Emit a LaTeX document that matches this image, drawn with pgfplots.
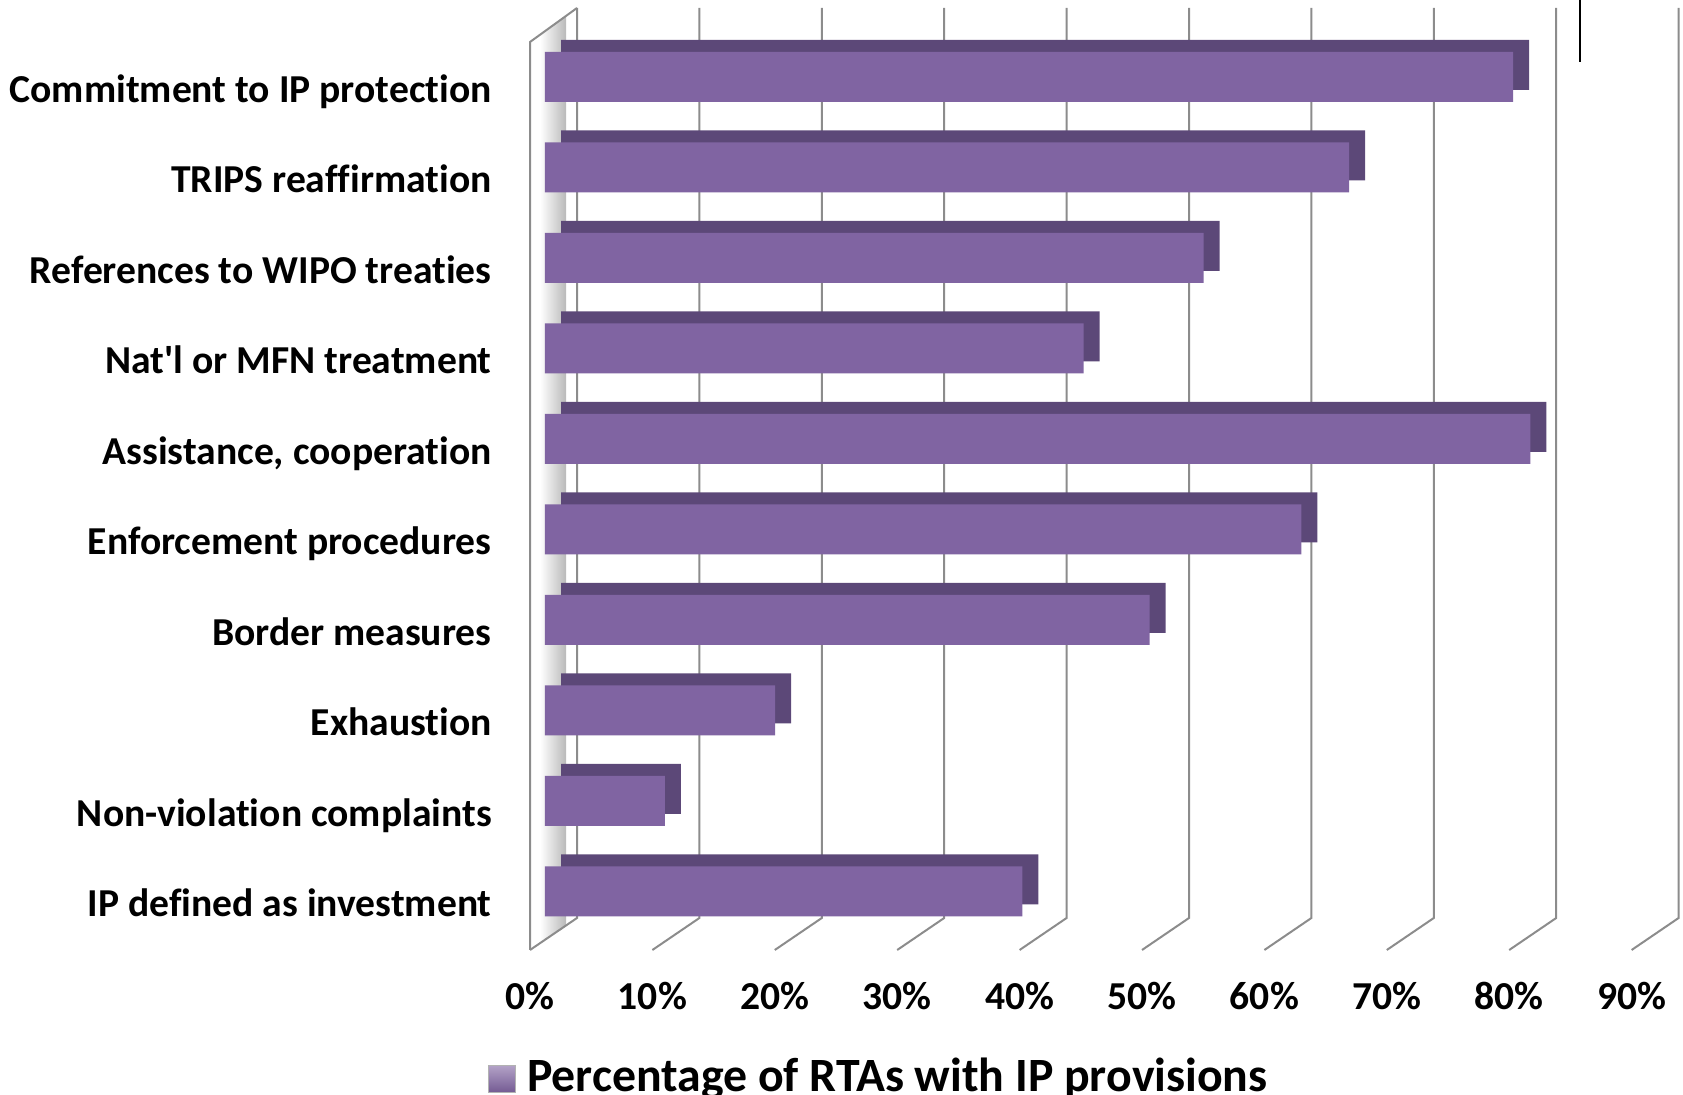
\documentclass[border=0pt]{standalone}
\usepackage{pgfplots}
\usepackage{pgfplotstable}
\pgfplotsset{compat=1.18}
\usepackage{fontspec}
\setmainfont{Carlito}[Ligatures={TeXOff,NoCommon}]
\definecolor{barfront}{HTML}{8064A2}
\definecolor{bartop}{HTML}{5C4878}
\definecolor{gridc}{HTML}{8C8C8C}

\pgfplotstableread{
y  v     off
0  39.0  1.307
1  9.8   1.307
2  18.8  1.307
3  49.4  1.307
4  61.8  1.307
5  80.5  1.307
6  44.0  1.307
7  53.8  1.307
8  65.7  1.307
9  79.1  1.307
}\datatab

\pgfplotsset{
  commonaxis/.style={
    at={(552.15pt,-242.125pt)}, anchor=center,
    scale only axis, width=574.3pt, height=452.5pt,
    xmin=-1.2255, xmax=92.614, ymin=-0.5, ymax=9.5,
    clip=false,
  }
}

\begin{document}
\begin{tikzpicture}
\begin{scope}[x=0.5pt,y=-0.5pt]
% side wall shading
\shade[left color=white, right color=gray!55] (540,34.8) -- (566,16) -- (566,926.5) -- (540,943.4) -- cycle;
% back gridlines and floor lines
\foreach \k in {0,...,9} {
  \draw[gridc, line width=1pt] ({577+122.4*\k},8) -- ({577+122.4*\k},918) -- ({530+122.4*\k},950);
}
\draw[gridc, line width=1pt] (577,8) -- (530,42) -- (530,950);
\draw[black, line width=1pt] (1580,0) -- (1580,62);
\end{scope}

% dark top/side faces of the bars
\begin{axis}[commonaxis, hide axis, xbar stacked, bar width=25pt, bar shift=6pt]
\addplot[draw=none, fill=none] table[x=off, y=y] {\datatab};
\addplot[draw=none, fill=bartop] table[x=v, y=y] {\datatab};
\end{axis}

% front faces, labels, legend
\begin{axis}[commonaxis, xbar, bar width=25pt, bar shift=0pt,
  axis line style={draw=none}, major tick length=0pt,
  xtick={0,10,...,90},
  xticklabels={0\%,10\%,20\%,30\%,40\%,50\%,60\%,70\%,80\%,90\%},
  ytick={0,...,9},
  yticklabels={IP defined as investment, Non-violation complaints, Exhaustion, Border measures, Enforcement procedures, {Assistance, cooperation}, Nat'l or MFN treatment, References to WIPO treaties, TRIPS reaffirmation, Commitment to IP protection},
  ticklabel style={font=\bfseries\fontsize{19.8}{22}\selectfont},
  xticklabel style={anchor=center, inner sep=0pt, xshift=-7.5pt, yshift=-29.6pt},
  yticklabel style={anchor=base east, inner sep=0pt, xshift=-19pt, yshift=-12.75pt},
  legend style={draw=none, fill=none, at={(-0.0366,-0.1536)}, anchor=west, inner sep=0pt,
    nodes={inner sep=0pt},
    font=\bfseries\fontsize{23.9}{26}\selectfont,
    /tikz/every odd column/.append style={column sep=5.5pt}},
]
\addplot[draw=none, fill=barfront,
  legend image code/.code={\shade[top color=barfront!60, bottom color=barfront!90!black, draw=gray!60] (0pt,-8.4pt) rectangle (13.5pt,5.1pt);}]
  table[x=v, y=y] {\datatab};
\addlegendentry{Percentage of RTAs with IP provisions}
\end{axis}
\pgfresetboundingbox
\useasboundingbox (0pt,0pt) rectangle (841.5pt,-547.5pt);
\end{tikzpicture}
\end{document}
